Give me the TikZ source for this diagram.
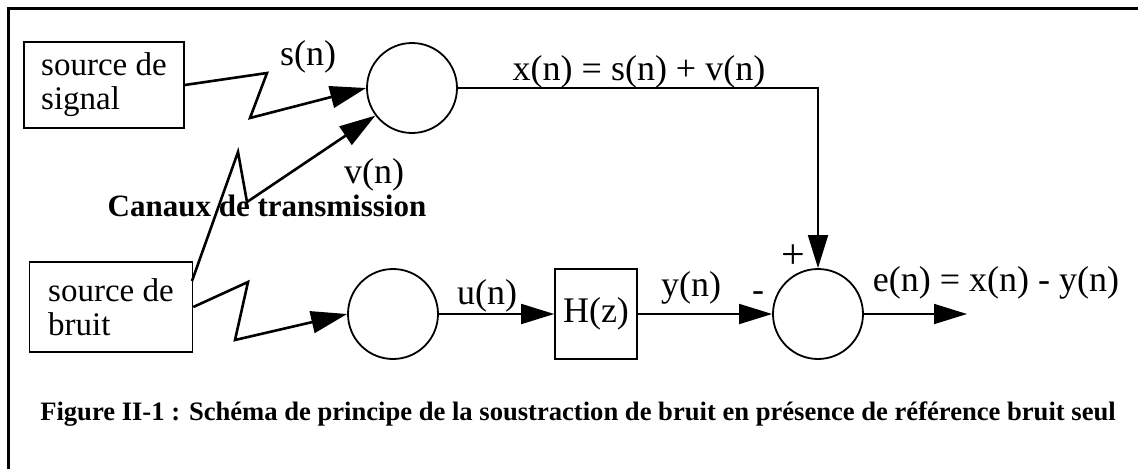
\documentclass[tikz,border=0pt]{standalone}
\usepackage{fontspec}
\setmainfont{Liberation Serif}
\usetikzlibrary{arrows.meta}
\tikzset{
  srcbox/.style={draw, line width=1.6pt, align=left, inner sep=0pt,
    font=\fontsize{33}{34}\selectfont},
  sumnode/.style={draw, circle, line width=1.8pt, minimum size=90pt, inner sep=0pt},
  filtbox/.style={draw, line width=1.6pt, minimum width=82pt, minimum height=90pt,
    inner sep=0pt, font=\fontsize{36}{38}\selectfont},
  lbl/.style={inner sep=0pt, font=\fontsize{36}{40}\selectfont},
  chan/.style={line width=2.6pt, line join=miter, -{Triangle[length=36pt,width=22pt]}},
  sig/.style={line width=1.8pt, -{Triangle[length=33pt,width=20pt]}},
}
\begin{document}
\begin{tikzpicture}[x=1pt,y=-1pt]
\useasboundingbox (0,0) rectangle (1138,469);
% frame
\draw[line width=3pt] (8,469) -- (8,8) -- (1138,8);
% blocks
\node[srcbox, minimum width=160pt, minimum height=86pt] (ss) at (104,85) {source de\\signal};
\node[srcbox, minimum width=163pt, minimum height=90pt] (sb) at (111,307) {source de\\bruit};
\node[sumnode] (c1) at (412,88) {};
\node[sumnode] (c2) at (393,314) {};
\node[sumnode] (c3) at (818,314) {};
\node[filtbox] (H) at (596,314) {H(z)};
% channels
\coordinate (a1) at (267,73);
\coordinate (a2) at (250,118);
\draw[chan] (ss.east) -- (a1) -- (a2) -- (c1.180);
\coordinate (b0) at (192,281);
\coordinate (b1) at (238,152);
\coordinate (b2) at (247,202);
\draw[chan] (b0) -- (b1) -- (b2) -- (c1.217);
\coordinate (d1) at (248,282);
\coordinate (d2) at (235,340);
\draw[chan] (sb.east) -- (d1) -- (d2) -- (c2.west);
% signal path
\draw[sig] (c2.east) -- (H.west);
\draw[sig] (H.east) -- (c3.west);
\draw[sig] (c1.east) -| (c3.north);
\coordinate (out) at (967,314);
\draw[sig] (c3.east) -- (out);
% labels
\node[lbl] (ls) at (308,57) {s(n)};
\node[lbl] (lv) at (374,175) {v(n)};
\node[inner sep=0pt, font=\fontsize{31}{34}\selectfont\bfseries] (lc) at (267,206) {Canaux de transmission};
\node[lbl] (lx) at (639,72) {x(n) = s(n) + v(n)};
\node[lbl] (lu) at (487,296) {u(n)};
\node[lbl] (ly) at (691,288) {y(n)};
\node[lbl] (lm) at (758,297) {-};
\node[inner sep=0pt, font=\fontsize{42}{44}\selectfont] (lp) at (793,257) {+};
\node[lbl] (le) at (996,283) {e(n) = x(n) - y(n)};
\node[inner sep=0pt, font=\fontsize{26.6}{30}\selectfont\bfseries] (cap) at (578,414)
  {Figure II-1 : Schéma de principe de la soustraction de bruit en présence de référence bruit seul};
\end{tikzpicture}
\end{document}
